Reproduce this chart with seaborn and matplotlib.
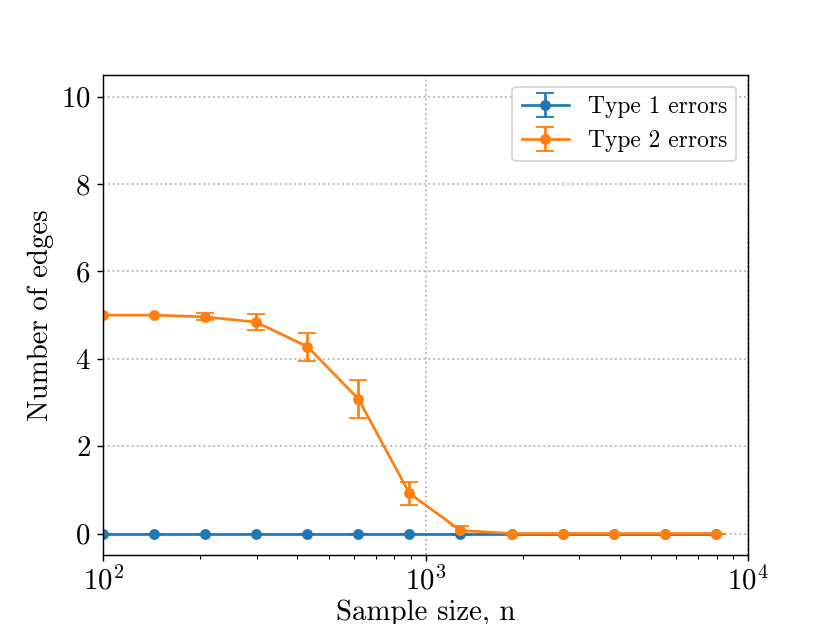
import matplotlib
matplotlib.use("Agg")
import matplotlib.pyplot as plt
import seaborn as sns

# sample sizes (log spaced) and mean number of wrong edges
sample_sizes = [100, 144, 207, 298, 430, 619, 891, 1283, 1848, 2661, 3832, 5518, 7946]
type1_mean = [0, 0, 0, 0, 0, 0, 0, 0, 0, 0, 0, 0, 0]
type1_err = [0, 0, 0, 0, 0, 0, 0, 0, 0, 0, 0, 0, 0]
type2_mean = [5.0, 5.0, 4.96, 4.84, 4.28, 3.08, 0.92, 0.07, 0, 0, 0, 0, 0]
type2_err = [0, 0, 0.08, 0.18, 0.32, 0.43, 0.27, 0.10, 0, 0, 0, 0, 0]
series_names = ["Type 1 errors", "Type 2 errors"]

plt.rcParams["font.family"] = "serif"
plt.rcParams["font.serif"] = ["cmr10"]
plt.rcParams["mathtext.fontset"] = "cm"
plt.rcParams["axes.formatter.use_mathtext"] = True
plt.rcParams["axes.unicode_minus"] = False

colors = sns.color_palette("tab10", 2)

fig, ax = plt.subplots(figsize=(6.4, 4.8), dpi=130)
fig.subplots_adjust(left=0.124, right=0.899)

for name, mean, err, c in zip(series_names, [type1_mean, type2_mean],
                              [type1_err, type2_err], colors):
    ax.errorbar(sample_sizes, mean, yerr=err, color=c, marker="o",
                markersize=5, capsize=5, label=name)

ax.set_xscale("log")
ax.set_xlim(100, 10000)
ax.set_ylim(-0.5, 10.5)
ax.set_yticks([0, 2, 4, 6, 8, 10])
ax.grid(True, which="major", linestyle=":", color="0.7", linewidth=1)
ax.tick_params(axis="both", which="major", labelsize=16)
ax.tick_params(axis="x", which="major", pad=2.5)
ax.set_xlabel("Sample size, n", fontsize=16, labelpad=2)
ax.set_ylabel("Number of edges", fontsize=16)
ax.legend(loc="upper right", fontsize=13)

fig.savefig("out.png", dpi=130)
